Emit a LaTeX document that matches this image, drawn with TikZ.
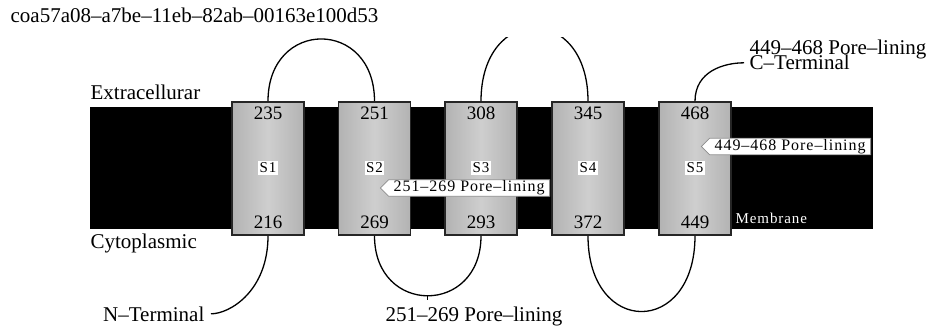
\documentclass[tikz,border=0pt]{standalone}
\usepackage{fontspec}
\setmainfont{Liberation Serif}
\newfontfamily\spacedfont[LetterSpace=6]{Liberation Serif}
\usetikzlibrary{shapes.symbols}

\begin{document}
\begin{tikzpicture}[x=1pt,y=-1pt,line width=1.3pt]
	\tikzstyle{label text}=[inner sep=0pt,font=\fontsize{21}{24}\selectfont]
	\tikzstyle{num text}=[inner sep=0pt,font=\fontsize{19}{22}\selectfont]
	\tikzstyle{helix}=[draw=black!85,line width=1.6pt,minimum width=72pt,minimum height=133pt,inner sep=0pt,left color=black!30,right color=black!30,middle color=black!19]
	\tikzstyle{seg name}=[fill=white,inner sep=1.5pt,font=\spacedfont\fontsize{15}{17}\selectfont]
	\tikzstyle{callout}=[signal,signal to=west,draw=black!45,line width=0.8pt,fill=white,inner xsep=5pt,inner ysep=1pt,font=\spacedfont\fontsize{16}{18}\selectfont]
	\tikzstyle{loop}=[draw=black,line width=1.3pt]

	\useasboundingbox (0,0) rectangle (933,331);

	% Title
	\node[label text,anchor=base west] (title) at (10,23) {coa57a08–a7be–11eb–82ab–00163e100d53};

	% Draw the membrane
	\node[fill=black,minimum width=783pt,minimum height=122pt,inner sep=0pt] (membrane) at (481.5,168) {};
	\node[anchor=base west,inner sep=0pt,text=white,font=\spacedfont\fontsize{15}{17}\selectfont] (mem) at (735,223) {Membrane};

	% Draw the helices
	\foreach \name/\x/\topnum/\botnum in {1/268/235/216,2/374.5/251/269,3/481/308/293,4/588/345/372,5/695/468/449}
	{
		\node[helix] (S\name) at (\x,168.5) {};
		\node[num text,anchor=base] (T-\name) at (\x,120) {\topnum};
		\node[num text,anchor=base] (B-\name) at (\x,228) {\botnum};
		\node[seg name] (N-\name) at (\x,168) {S\name};
	}

	% Annotate the sides
	\node[label text,anchor=base west] (extra) at (90,100) {Extracellurar};
	\node[label text,anchor=base west] (cyto) at (90,248) {Cytoplasmic};

	% Pore-lining callouts
	\node[callout,anchor=east] (P-2) at (550,188) {251–269 Pore–lining};
	\node[callout,anchor=east] (P-5) at (871,146.5) {449–468 Pore–lining};

	% Terminal and loop labels
	\node[label text,anchor=base west] (cterm-pl) at (749,55) {449–468 Pore–lining};
	\node[label text,anchor=base west] (cterm) at (749,70) {C–Terminal};
	\node[label text,anchor=base east] (nterm) at (205,321) {N–Terminal};
	\node[label text,anchor=base west] (loop-pl) at (385,321) {251–269 Pore–lining};

	% Connect outside loops
	\draw[loop] (S1.north) .. controls +(0,-83) and +(0,-83) .. (S2.north);
	\begin{scope}
		\clip (0,38) rectangle (933,331);
		\draw[loop] (S3.north) .. controls +(0,-98) and +(0,-98) .. (S4.north);
	\end{scope}
	\draw[loop,shorten >=5pt] (S5.north) .. controls +(0,-30) and +(-25,0) .. (cterm.west);

	% Connect inside loops
	\draw[loop,shorten >=6pt] (S1.south) .. controls +(0,55) and +(25,0) .. (nterm.east);
	\draw[loop] (S2.south) .. controls +(0,80) and +(0,80) .. (S3.south) coordinate[pos=0.5] (b23);
	\draw[loop,shorten >=6pt] (b23) -- (b23 |- loop-pl.north);
	\draw[loop] (S4.south) .. controls +(0,101) and +(0,101) .. (S5.south);

\end{tikzpicture}
\end{document}
